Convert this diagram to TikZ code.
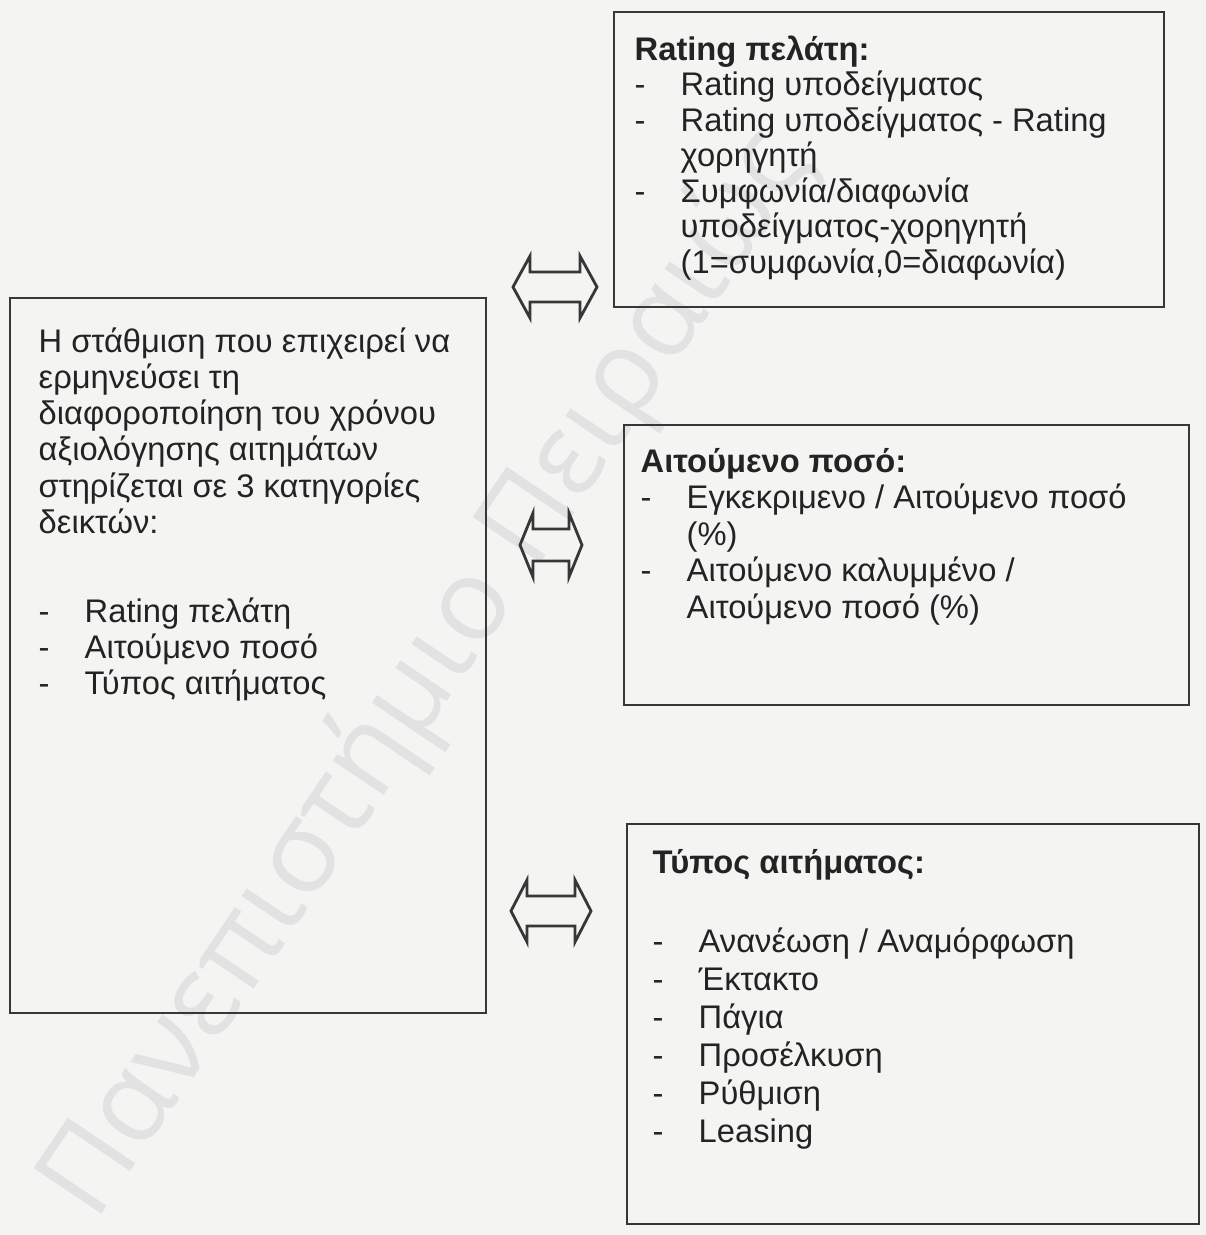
\documentclass[tikz,border=0pt]{standalone}
\usepackage{fontspec}
\setmainfont{Liberation Sans}
\newfontfamily\wmfont{Open Sans}
\definecolor{paper}{RGB}{244,244,243}
\definecolor{ink}{RGB}{35,35,35}
\definecolor{frame}{RGB}{55,55,55}
\definecolor{mark}{RGB}{226,226,226}
\newcommand{\itemdash}{\makebox[0.46cm][l]{-}}
\newcommand{\itemskip}{\hspace*{0.46cm}}
\tikzset{
  box/.style={draw=frame,line width=0.7pt},
  dblarrow/.style={draw=frame,line width=0.8pt,line join=miter},
  txt/.style={anchor=base west,inner sep=0pt,text=ink},
}

\begin{document}
\begin{tikzpicture}[x=0.01cm,y=-0.01cm]
\useasboundingbox (0,0) rectangle (1206,1235);
\fill[paper] (0,0) rectangle (1206,1235);

% watermark
\node[anchor=base west,inner sep=0pt,rotate=56,text=mark,font=\wmfont\fontsize{32.5}{32.5}\selectfont] (wm) at (95,1224) {Πανεπιστήμιο Πειραιώς};

% frames
\coordinate (ask1) at (10,298);   \coordinate (ask2) at (486,1013);
\coordinate (rat1) at (614,12);   \coordinate (rat2) at (1164,307);
\coordinate (amt1) at (624,425);  \coordinate (amt2) at (1189,705);
\coordinate (typ1) at (627,824);  \coordinate (typ2) at (1199,1224);
\draw[box] (ask1) rectangle (ask2);
\draw[box] (rat1) rectangle (rat2);
\draw[box] (amt1) rectangle (amt2);
\draw[box] (typ1) rectangle (typ2);

% left text
\node[txt,font=\fontsize{9.3}{10.33}\selectfont] (asktext) at (38,352) {\begin{tabular}[t]{@{}l@{}}
Η στάθμιση που επιχειρεί να\\
ερμηνεύσει τη\\
διαφοροποίηση του χρόνου\\
αξιολόγησης αιτημάτων\\
στηρίζεται σε 3 κατηγορίες\\
δεικτών:\\[0.52cm]
\itemdash Rating πελάτη\\
\itemdash Αιτούμενο ποσό\\
\itemdash Τύπος αιτήματος
\end{tabular}};

% rating
\node[txt,font=\fontsize{9.3}{10.1}\selectfont] (rattext) at (634,60) {\begin{tabular}[t]{@{}l@{}}
\textbf{Rating πελάτη:}\\
\itemdash Rating υποδείγματος\\
\itemdash Rating υποδείγματος - Rating\\
\itemskip χορηγητή\\
\itemdash Συμφωνία/διαφωνία\\
\itemskip υποδείγματος-χορηγητή\\
\itemskip (1=συμφωνία,0=διαφωνία)
\end{tabular}};

% amount
\node[txt,font=\fontsize{9.3}{10.39}\selectfont] (amttext) at (640,472) {\begin{tabular}[t]{@{}l@{}}
\textbf{Αιτούμενο ποσό:}\\
\itemdash Εγκεκριμενο / Αιτούμενο ποσό\\
\itemskip (\%)\\
\itemdash Αιτούμενο καλυμμένο /\\
\itemskip Αιτούμενο ποσό (\%)
\end{tabular}};

% request type
\node[txt,font=\fontsize{9.3}{10.81}\selectfont] (typtext) at (652,873) {\begin{tabular}[t]{@{}l@{}}
\textbf{Τύπος αιτήματος:}\\[0.41cm]
\itemdash Ανανέωση / Αναμόρφωση\\
\itemdash Έκτακτο\\
\itemdash Πάγια\\
\itemdash Προσέλκυση\\
\itemdash Ρύθμιση\\
\itemdash Leasing
\end{tabular}};

% double arrows
\draw[dblarrow,shift={(555,287)}] (-42,0) -- (-25,-31) -- (-25,-15) -- (25,-15) -- (25,-31) -- (42,0) -- (25,31) -- (25,15) -- (-25,15) -- (-25,31) -- cycle;
\draw[dblarrow,shift={(551,545)}] (-31,0) -- (-18,-32) -- (-18,-16) -- (18,-16) -- (18,-32) -- (31,0) -- (18,32) -- (18,16) -- (-18,16) -- (-18,32) -- cycle;
\draw[dblarrow,shift={(551,911)}] (-40,0) -- (-24,-31) -- (-24,-15) -- (24,-15) -- (24,-31) -- (40,0) -- (24,31) -- (24,15) -- (-24,15) -- (-24,31) -- cycle;

\end{tikzpicture}
\end{document}
